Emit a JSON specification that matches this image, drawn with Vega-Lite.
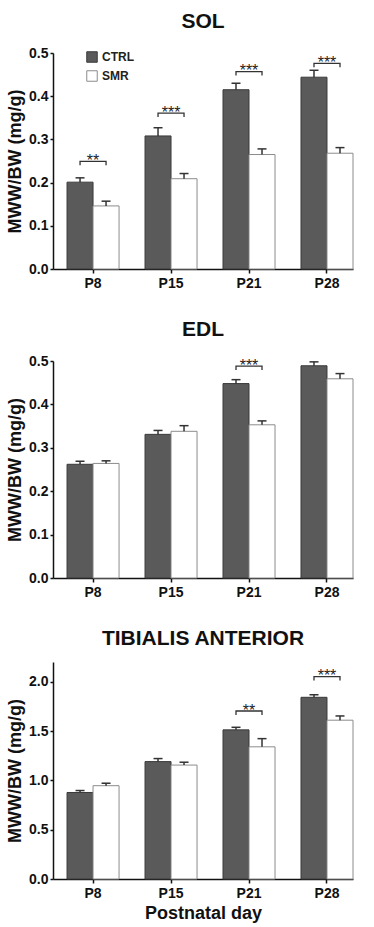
{
  "$schema": "https://vega.github.io/schema/vega-lite/v6.json",
  "padding": {"left": 6, "top": 11, "right": 5, "bottom": 5},
  "background": "white",
  "config": {
    "font": "Liberation Sans",
    "view": {"stroke": null},
    "axis": {"grid": false, "domainColor": "#111", "domainWidth": 1.5, "tickColor": "#111", "tickWidth": 1.5, "tickSize": 4, "labelFontWeight": "bold", "labelFontSize": 14, "labelColor": "#111", "titleColor": "#111", "titleFontWeight": "bold", "titleFontSize": 18},
    "title": {"fontSize": 21, "fontWeight": "bold", "color": "#111", "anchor": "middle", "offset": 14}
  },
  "datasets": {
    "bars": [
      {"panel": "SOL", "day": "P8", "group": "CTRL", "mean": 0.201, "upper": 0.211},
      {"panel": "SOL", "day": "P8", "group": "SMR", "mean": 0.146, "upper": 0.157},
      {"panel": "SOL", "day": "P15", "group": "CTRL", "mean": 0.308, "upper": 0.327},
      {"panel": "SOL", "day": "P15", "group": "SMR", "mean": 0.209, "upper": 0.221},
      {"panel": "SOL", "day": "P21", "group": "CTRL", "mean": 0.415, "upper": 0.43},
      {"panel": "SOL", "day": "P21", "group": "SMR", "mean": 0.265, "upper": 0.278},
      {"panel": "SOL", "day": "P28", "group": "CTRL", "mean": 0.444, "upper": 0.46},
      {"panel": "SOL", "day": "P28", "group": "SMR", "mean": 0.268, "upper": 0.281},
      {"panel": "EDL", "day": "P8", "group": "CTRL", "mean": 0.262, "upper": 0.269},
      {"panel": "EDL", "day": "P8", "group": "SMR", "mean": 0.264, "upper": 0.27},
      {"panel": "EDL", "day": "P15", "group": "CTRL", "mean": 0.331, "upper": 0.34},
      {"panel": "EDL", "day": "P15", "group": "SMR", "mean": 0.338, "upper": 0.351},
      {"panel": "EDL", "day": "P21", "group": "CTRL", "mean": 0.448, "upper": 0.457},
      {"panel": "EDL", "day": "P21", "group": "SMR", "mean": 0.353, "upper": 0.362},
      {"panel": "EDL", "day": "P28", "group": "CTRL", "mean": 0.489, "upper": 0.498},
      {"panel": "EDL", "day": "P28", "group": "SMR", "mean": 0.459, "upper": 0.471},
      {"panel": "TA", "day": "P8", "group": "CTRL", "mean": 0.877, "upper": 0.897},
      {"panel": "TA", "day": "P8", "group": "SMR", "mean": 0.946, "upper": 0.971},
      {"panel": "TA", "day": "P15", "group": "CTRL", "mean": 1.19, "upper": 1.221},
      {"panel": "TA", "day": "P15", "group": "SMR", "mean": 1.155, "upper": 1.184},
      {"panel": "TA", "day": "P21", "group": "CTRL", "mean": 1.512, "upper": 1.538},
      {"panel": "TA", "day": "P21", "group": "SMR", "mean": 1.34, "upper": 1.423},
      {"panel": "TA", "day": "P28", "group": "CTRL", "mean": 1.842, "upper": 1.868},
      {"panel": "TA", "day": "P28", "group": "SMR", "mean": 1.61, "upper": 1.653}
    ],
    "sig": [
      {"panel": "SOL", "day": "P8", "y": 0.249, "label": "**"},
      {"panel": "SOL", "day": "P15", "y": 0.361, "label": "***"},
      {"panel": "SOL", "day": "P21", "y": 0.457, "label": "***"},
      {"panel": "SOL", "day": "P28", "y": 0.476, "label": "***"},
      {"panel": "EDL", "day": "P21", "y": 0.488, "label": "***"},
      {"panel": "TA", "day": "P21", "y": 1.703, "label": "**"},
      {"panel": "TA", "day": "P28", "y": 2.051, "label": "***"}
    ]
  },
  "vconcat": [
    {
      "width": 300, "height": 216,
      "title": {"text": "SOL"},
      "layer": [
        {
          "data": {"name": "bars"},
          "transform": [{"filter": "datum.panel === 'SOL'"}],
          "mark": {"type": "bar", "strokeWidth": 1},
          "encoding": {
            "x": {"field": "day", "type": "nominal", "sort": ["P8", "P15", "P21", "P28"], "scale": {"paddingInner": 0.333, "paddingOuter": 0.09, "align": 1}, "axis": {"title": null, "labelAngle": 0, "labelPadding": 3}},
            "xOffset": {"field": "group", "type": "nominal", "scale": {"paddingInner": 0, "paddingOuter": 0}},
            "y": {"field": "mean", "type": "quantitative", "scale": {"domain": [0, 0.5]}, "axis": {"title": "MWW/BW (mg/g)", "values": [0, 0.1, 0.2, 0.3, 0.4, 0.5], "format": ".1f", "tickSize": 3, "labelPadding": 2, "titlePadding": 4}},
            "fill": {"field": "group", "type": "nominal", "scale": {"domain": ["CTRL", "SMR"], "range": ["#5a5a5a", "#ffffff"]}, "legend": {"title": null, "orient": "none", "legendX": 33, "legendY": -2, "symbolType": "square", "symbolSize": 110, "symbolStrokeWidth": 1, "labelFontSize": 12, "labelFontWeight": "bold", "labelColor": "#222", "rowPadding": 3}},
            "stroke": {"field": "group", "type": "nominal", "scale": {"domain": ["CTRL", "SMR"], "range": ["#3a3a3a", "#8c8c8c"]}}
          }
        },
        {
          "data": {"name": "bars"},
          "transform": [{"filter": "datum.panel === 'SOL'"}],
          "mark": {"type": "rule", "color": "#333", "strokeWidth": 1.5},
          "encoding": {"x": {"field": "day", "type": "nominal", "sort": ["P8", "P15", "P21", "P28"]}, "xOffset": {"field": "group", "type": "nominal"}, "y": {"field": "mean", "type": "quantitative"}, "y2": {"field": "upper"}}
        },
        {
          "data": {"name": "bars"},
          "transform": [{"filter": "datum.panel === 'SOL'"}],
          "mark": {"type": "tick", "color": "#333", "size": 9, "thickness": 1.5, "opacity": 1},
          "encoding": {"x": {"field": "day", "type": "nominal", "sort": ["P8", "P15", "P21", "P28"]}, "xOffset": {"field": "group", "type": "nominal"}, "y": {"field": "upper", "type": "quantitative"}}
        },
        {
          "data": {"name": "sig"},
          "transform": [{"filter": "datum.panel === 'SOL'"}],
          "mark": {"type": "point", "shape": "M-1,0.3L-1,0L1,0L1,0.3", "size": 676, "filled": false, "stroke": "#333", "strokeWidth": 1.3, "opacity": 1},
          "encoding": {"x": {"field": "day", "type": "nominal", "sort": ["P8", "P15", "P21", "P28"]}, "y": {"field": "y", "type": "quantitative"}}
        },
        {
          "data": {"name": "sig"},
          "transform": [{"filter": "datum.panel === 'SOL'"}],
          "mark": {"type": "text", "fontSize": 16, "color": "#222", "baseline": "alphabetic", "dy": 4.5},
          "encoding": {"x": {"field": "day", "type": "nominal", "sort": ["P8", "P15", "P21", "P28"]}, "y": {"field": "y", "type": "quantitative"}, "text": {"field": "label"}}
        }
      ]
    },
    {
      "width": 300, "height": 217,
      "title": {"text": "EDL"},
      "layer": [
        {
          "data": {"name": "bars"},
          "transform": [{"filter": "datum.panel === 'EDL'"}],
          "mark": {"type": "bar", "strokeWidth": 1},
          "encoding": {
            "x": {"field": "day", "type": "nominal", "sort": ["P8", "P15", "P21", "P28"], "scale": {"paddingInner": 0.333, "paddingOuter": 0.09, "align": 1}, "axis": {"title": null, "labelAngle": 0, "labelPadding": 3}},
            "xOffset": {"field": "group", "type": "nominal", "scale": {"paddingInner": 0, "paddingOuter": 0}},
            "y": {"field": "mean", "type": "quantitative", "scale": {"domain": [0, 0.5]}, "axis": {"title": "MWW/BW (mg/g)", "values": [0, 0.1, 0.2, 0.3, 0.4, 0.5], "format": ".1f", "tickSize": 3, "labelPadding": 2, "titlePadding": 4}},
            "fill": {"field": "group", "type": "nominal", "scale": {"domain": ["CTRL", "SMR"], "range": ["#5a5a5a", "#ffffff"]}, "legend": null},
            "stroke": {"field": "group", "type": "nominal", "scale": {"domain": ["CTRL", "SMR"], "range": ["#3a3a3a", "#8c8c8c"]}, "legend": null}
          }
        },
        {
          "data": {"name": "bars"},
          "transform": [{"filter": "datum.panel === 'EDL'"}],
          "mark": {"type": "rule", "color": "#333", "strokeWidth": 1.5},
          "encoding": {"x": {"field": "day", "type": "nominal", "sort": ["P8", "P15", "P21", "P28"]}, "xOffset": {"field": "group", "type": "nominal"}, "y": {"field": "mean", "type": "quantitative"}, "y2": {"field": "upper"}}
        },
        {
          "data": {"name": "bars"},
          "transform": [{"filter": "datum.panel === 'EDL'"}],
          "mark": {"type": "tick", "color": "#333", "size": 9, "thickness": 1.5, "opacity": 1},
          "encoding": {"x": {"field": "day", "type": "nominal", "sort": ["P8", "P15", "P21", "P28"]}, "xOffset": {"field": "group", "type": "nominal"}, "y": {"field": "upper", "type": "quantitative"}}
        },
        {
          "data": {"name": "sig"},
          "transform": [{"filter": "datum.panel === 'EDL'"}],
          "mark": {"type": "point", "shape": "M-1,0.3L-1,0L1,0L1,0.3", "size": 676, "filled": false, "stroke": "#333", "strokeWidth": 1.3, "opacity": 1},
          "encoding": {"x": {"field": "day", "type": "nominal", "sort": ["P8", "P15", "P21", "P28"]}, "y": {"field": "y", "type": "quantitative"}}
        },
        {
          "data": {"name": "sig"},
          "transform": [{"filter": "datum.panel === 'EDL'"}],
          "mark": {"type": "text", "fontSize": 16, "color": "#222", "baseline": "alphabetic", "dy": 4.5},
          "encoding": {"x": {"field": "day", "type": "nominal", "sort": ["P8", "P15", "P21", "P28"]}, "y": {"field": "y", "type": "quantitative"}, "text": {"field": "label"}}
        }
      ]
    },
    {
      "width": 300, "height": 217,
      "title": {"text": "TIBIALIS ANTERIOR", "offset": 13},
      "layer": [
        {
          "data": {"name": "bars"},
          "transform": [{"filter": "datum.panel === 'TA'"}],
          "mark": {"type": "bar", "strokeWidth": 1},
          "encoding": {
            "x": {"field": "day", "type": "nominal", "sort": ["P8", "P15", "P21", "P28"], "scale": {"paddingInner": 0.333, "paddingOuter": 0.09, "align": 1}, "axis": {"title": "Postnatal day", "labelAngle": 0, "labelPadding": 3, "titlePadding": 4}},
            "xOffset": {"field": "group", "type": "nominal", "scale": {"paddingInner": 0, "paddingOuter": 0}},
            "y": {"field": "mean", "type": "quantitative", "scale": {"domain": [0, 2.2]}, "axis": {"title": "MWW/BW (mg/g)", "values": [0, 0.5, 1.0, 1.5, 2.0], "format": ".1f", "tickSize": 3, "labelPadding": 2, "titlePadding": 4}},
            "fill": {"field": "group", "type": "nominal", "scale": {"domain": ["CTRL", "SMR"], "range": ["#5a5a5a", "#ffffff"]}, "legend": null},
            "stroke": {"field": "group", "type": "nominal", "scale": {"domain": ["CTRL", "SMR"], "range": ["#3a3a3a", "#8c8c8c"]}, "legend": null}
          }
        },
        {
          "data": {"name": "bars"},
          "transform": [{"filter": "datum.panel === 'TA'"}],
          "mark": {"type": "rule", "color": "#333", "strokeWidth": 1.5},
          "encoding": {"x": {"field": "day", "type": "nominal", "sort": ["P8", "P15", "P21", "P28"]}, "xOffset": {"field": "group", "type": "nominal"}, "y": {"field": "mean", "type": "quantitative"}, "y2": {"field": "upper"}}
        },
        {
          "data": {"name": "bars"},
          "transform": [{"filter": "datum.panel === 'TA'"}],
          "mark": {"type": "tick", "color": "#333", "size": 9, "thickness": 1.5, "opacity": 1},
          "encoding": {"x": {"field": "day", "type": "nominal", "sort": ["P8", "P15", "P21", "P28"]}, "xOffset": {"field": "group", "type": "nominal"}, "y": {"field": "upper", "type": "quantitative"}}
        },
        {
          "data": {"name": "sig"},
          "transform": [{"filter": "datum.panel === 'TA'"}],
          "mark": {"type": "point", "shape": "M-1,0.3L-1,0L1,0L1,0.3", "size": 676, "filled": false, "stroke": "#333", "strokeWidth": 1.3, "opacity": 1},
          "encoding": {"x": {"field": "day", "type": "nominal", "sort": ["P8", "P15", "P21", "P28"]}, "y": {"field": "y", "type": "quantitative"}}
        },
        {
          "data": {"name": "sig"},
          "transform": [{"filter": "datum.panel === 'TA'"}],
          "mark": {"type": "text", "fontSize": 16, "color": "#222", "baseline": "alphabetic", "dy": 4.5},
          "encoding": {"x": {"field": "day", "type": "nominal", "sort": ["P8", "P15", "P21", "P28"]}, "y": {"field": "y", "type": "quantitative"}, "text": {"field": "label"}}
        }
      ]
    }
  ],
  "spacing": 29
}
